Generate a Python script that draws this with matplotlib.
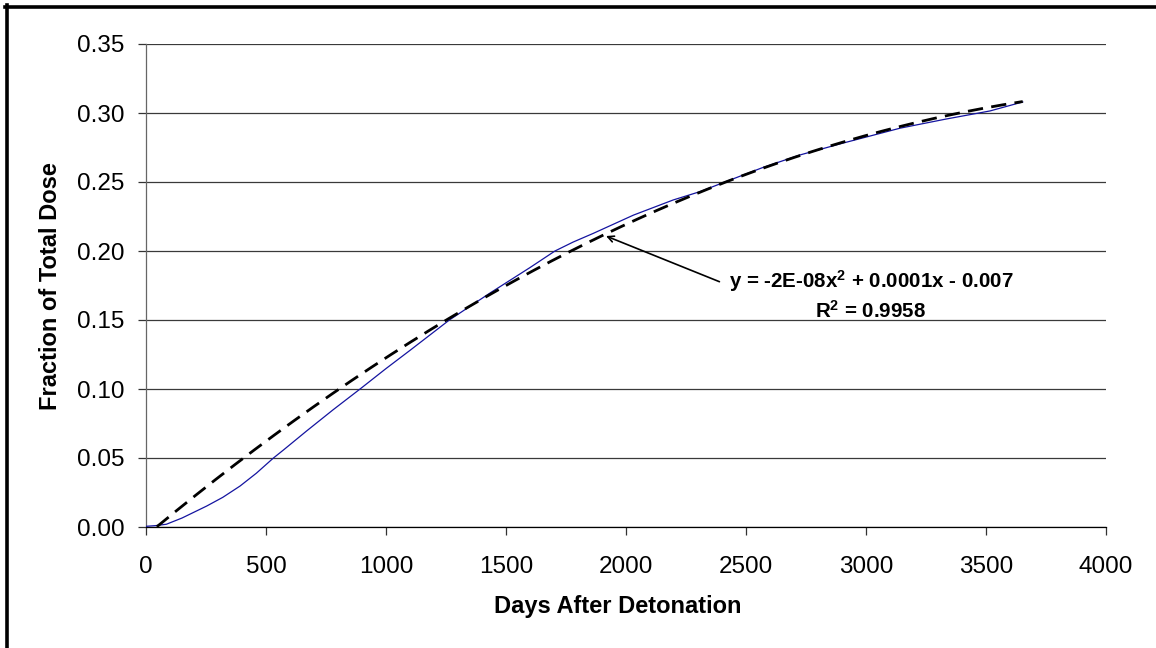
import numpy as np
import matplotlib
matplotlib.use("Agg")
import matplotlib.pyplot as plt
from matplotlib.lines import Line2D

plt.rcParams['font.family'] = ['Liberation Sans', 'DejaVu Sans']
plt.rcParams['mathtext.fontset'] = 'custom'
plt.rcParams['mathtext.rm'] = 'Liberation Sans:bold'
plt.rcParams['mathtext.it'] = 'Liberation Sans:bold'
plt.rcParams['mathtext.bf'] = 'Liberation Sans:bold'

# Data
days = [0, 40, 85, 150, 253, 320, 392, 460, 531, 572, 670, 780, 892, 1000,
        1100, 1264, 1433, 1600, 1704, 1780, 1864, 2031, 2197, 2308, 2412,
        2570, 2725, 2900, 3142, 3330, 3517, 3653]
fraction = [0.0005, 0.001, 0.002, 0.0065, 0.0152, 0.0215, 0.0297, 0.039,
            0.050, 0.0557, 0.0697, 0.085, 0.100, 0.1148, 0.128, 0.150,
            0.1695, 0.188, 0.200, 0.2065, 0.2128, 0.226, 0.237, 0.243,
            0.250, 0.2605, 0.2696, 0.278, 0.289, 0.2955, 0.3015, 0.308]
# Polynomial trendline coefficients (x^2, x, 1)
trend_coef = [-1.615e-8, 1.4513e-4, -0.00635]
trend_start = 45
x_ticks = [0, 500, 1000, 1500, 2000, 2500, 3000, 3500, 4000]
y_ticks = [0.00, 0.05, 0.10, 0.15, 0.20, 0.25, 0.30, 0.35]
eq_text = "y = -2E-08x$^{2}$ + 0.0001x - 0.007"
r2_text = "R$^{2}$ = 0.9958"

W, H = 1156, 648
fig = plt.figure(figsize=(W / 100, H / 100), dpi=100)
ax = fig.add_axes([146 / W, 1 - 527 / H, 960 / W, 483 / H])

x = np.array(days, dtype=float)
y = np.array(fraction)
ax.plot(x, y, color='#1414a0', lw=0.9, zorder=3)

xt = np.linspace(trend_start, x.max(), 400)
ax.plot(xt, np.polyval(trend_coef, xt), color='black', lw=2.0,
        linestyle=(0, (5.5, 3)), zorder=4)

ax.set_xlim(0, 4000)
ax.set_ylim(0, 0.35)
ax.set_xticks(x_ticks)
ax.set_yticks(y_ticks)
ax.set_xticklabels([str(t) for t in x_ticks])
ax.set_yticklabels([f"{t:.2f}" for t in y_ticks])
ax.tick_params(axis='both', labelsize=17.5, direction='out', length=6,
               width=0.9, color='#333333')
ax.tick_params(axis='x', pad=15)
ax.tick_params(axis='y', pad=9.5)
ax.yaxis.grid(True, color='#3a3a3a', lw=0.9)
ax.set_axisbelow(True)
for s in ['top', 'right']:
    ax.spines[s].set_visible(False)
ax.spines['left'].set_color('#666666')
ax.spines['left'].set_linewidth(0.9)
ax.spines['bottom'].set_color('black')
ax.spines['bottom'].set_linewidth(0.9)

fig.text(618 / W, 1 - 607 / H, "Days After Detonation", ha='center',
         va='center', fontsize=17, fontweight='bold')
fig.text(51 / W, 1 - 286 / H, "Fraction of Total Dose", ha='center',
         va='center', rotation=90, fontsize=17, fontweight='bold')

ax.annotate("", xy=(1906, 0.2116), xytext=(2400, 0.177),
            arrowprops=dict(arrowstyle='->', color='black', lw=1.2,
                            mutation_scale=11))
ax.text(3020, 0.178, eq_text, ha='center', va='center', fontsize=14.8,
        fontweight='bold')
ax.text(3020, 0.1565, r2_text, ha='center', va='center', fontsize=14.8,
        fontweight='bold')

# outer frame (left and top edges visible)
fig.add_artist(Line2D([6.5 / W, 6.5 / W], [0, 1 - 5 / H],
                      transform=fig.transFigure, color='black', lw=2.6))
fig.add_artist(Line2D([5 / W, 1], [1 - 7 / H, 1 - 7 / H],
                      transform=fig.transFigure, color='black', lw=2.6))

fig.savefig("out.png", dpi=100)
